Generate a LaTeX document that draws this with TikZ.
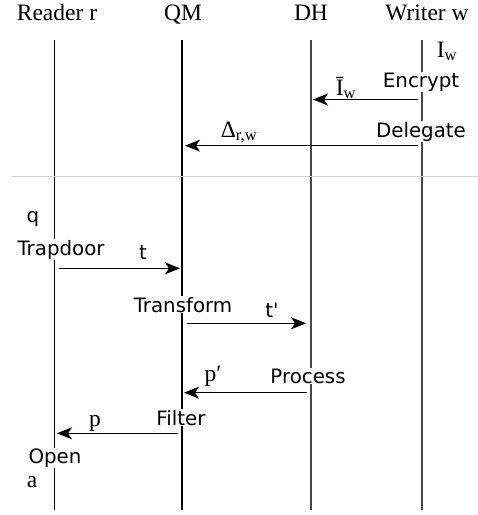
\documentclass[tikz,border=0pt]{standalone}
\usepackage{fontspec}
\setmainfont{Liberation Serif}
\newfontfamily\lblsans{DejaVu Sans}
\usetikzlibrary{arrows.meta}
\begin{document}
\begin{tikzpicture}[x=1pt,y=-1pt,
  serif/.style={font=\fontsize{23.5}{28}\selectfont, inner sep=0pt, anchor=base},
  act/.style={font=\lblsans\fontsize{19.8}{23}\selectfont, inner sep=0.5pt, fill=white, anchor=base},
  lifeA/.style={line width=1.6pt, black},
  lifeB/.style={line width=1.6pt, black!72},
  msg/.style={line width=1.4pt, -{Stealth[length=15pt,width=12pt,inset=4pt]}},
  sep/.style={line width=1.2pt, black!18}
]
\useasboundingbox (0,0) rectangle (478,515);
% headers
\node[serif] (hR) at (57,20) {Reader r};
\node[serif] (hQ) at (183,20) {QM};
\node[serif] (hD) at (311,20) {DH};
\node[serif] (hW) at (427,20) {Writer w};
% lifelines
\coordinate (rT) at (54.3,40); \coordinate (rB) at (54.3,510);
\coordinate (qT) at (182,40);  \coordinate (qB) at (182,510);
\coordinate (dT) at (310.7,40); \coordinate (dB) at (310.7,510);
\coordinate (wT) at (421.7,40); \coordinate (wB) at (421.7,510);
\draw[lifeA] (rT) -- (rB);
\draw[lifeA] (qT) -- (qB);
\draw[lifeB] (dT) -- (dB);
\draw[lifeB] (wT) -- (wB);
% separator
\coordinate (sL) at (12,176.7); \coordinate (sR) at (478,176.7);
\draw[sep] (sL) -- (sR);
% message end points
\coordinate (e1) at (418,99.5);  \coordinate (e2) at (313,99.5);
\coordinate (g1) at (418,145.7); \coordinate (g2) at (185,145.7);
\coordinate (t1) at (59,268.3);  \coordinate (t2) at (180,268.3);
\coordinate (f1) at (187,323.3); \coordinate (f2) at (306,323.3);
\coordinate (p1) at (307,392.7); \coordinate (p2) at (184,392.7);
\coordinate (l1) at (178,433.3); \coordinate (l2) at (57,433.3);
\draw[msg] (e1) -- (e2);
\draw[msg] (g1) -- (g2);
\draw[msg] (t1) -- (t2);
\draw[msg] (f1) -- (f2);
\draw[msg] (p1) -- (p2);
\draw[msg] (l1) -- (l2);
% labels
\node[act] (enc) at (421,87) {Encrypt};
\node[act] (del) at (421,137) {Delegate};
\node[serif] (Iw) at (447,57) {I\textsubscript{w}};
\node[serif] (Ibw) at (346,95) {\=I\textsubscript{w}};
\node[serif] (Drw) at (239,137) {Δ\textsubscript{r,w}};
\node[act, fill=none] (q) at (33,222) {q};
\node[act] (trap) at (61,255) {Trapdoor};
\node[act, fill=none] (t) at (143,259) {t};
\node[act] (tra) at (183,312) {Transform};
\node[act, fill=none] (tp) at (272,317) {t'};
\node[act] (proc) at (308,383) {Process};
\node[serif] (pp) at (213,381) {p′};
\node[act] (filt) at (181,425) {Filter};
\node[serif] (p) at (95,426) {p};
\node[act] (open) at (55,463) {Open};
\node[serif] (a) at (32,487) {a};
\end{tikzpicture}
\end{document}
